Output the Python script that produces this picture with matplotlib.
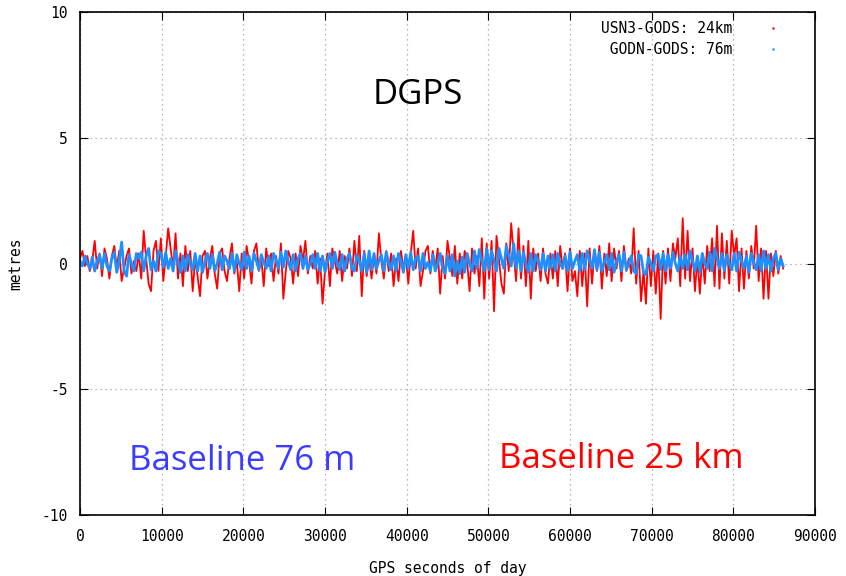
import numpy as np
import matplotlib
matplotlib.use("Agg")
import matplotlib.pyplot as plt
from matplotlib.lines import Line2D

plt.rcParams["axes.unicode_minus"] = False

# sample times (s of day), one every 300 s
t = np.arange(0, 86400, 300)

# USN3-GODS difference (metres)
usn3 = [
    0.2, 0.5, -0.1, 0.3, -0.3, 0.1, 0.9, -0.2, 0.4, -0.5, 0.6, 0.2, -0.6, 0.3, 0.7, -0.2, 0.5, -0.7, -0.2, 0.3, 0.6, -0.4, 0.1, -0.3,
    0.4, -0.6, 1.3, 0.2, -0.8, -1.1, 0.5, 0.9, -0.3, 1.0, -0.7, 0.3, 1.4, 0.6, -0.2, 1.2, -0.6, 0.4, -0.9, 0.7, -0.3, 0.5, -1.1, 0.2,
    -0.5, -1.3, 0.3, 0.5, -0.6, 0.2, 0.7, -0.4, -1.0, 0.4, 0.6, -0.3, -0.7, 0.2, 0.8, -0.4, 0.1, -1.1, 0.4, -0.6, 0.7, 0.1, -0.8, 0.5,
    0.8, -0.3, 0.2, -0.9, 0.6, -0.1, 0.4, -0.7, 0.3, -0.4, 0.8, -1.4, -0.3, 0.5, 0.2, -0.8, 0.4, -0.5, 0.7, 0.1, 0.9, -0.4, 0.3, -0.2,
    0.5, -0.8, 0.2, -1.6, -0.3, 0.4, -0.9, 0.6, 0.1, -0.4, 0.5, -0.7, 0.3, -0.2, 0.6, -0.5, 0.9, -0.3, 1.1, -1.3, 0.5, -0.5, 0.2, -0.6,
    0.3, -0.4, 1.2, 0.1, -0.6, 0.5, -0.3, 0.4, -0.9, 0.2, -0.7, 0.5, -0.2, 0.3, -0.8, 0.4, 1.3, -0.2, 0.6, -0.9, -0.3, 0.5, 0.7, -0.4,
    0.5, -0.2, 0.6, -1.2, 0.3, -0.6, 0.9, 0.2, -0.5, 0.7, -0.8, 0.4, -0.6, 0.5, 0.1, -1.1, 0.6, -0.4, 0.3, -0.9, 1.0, -1.4, 0.8, -0.6,
    0.9, -1.9, 1.1, 0.2, -0.8, -1.2, 0.8, -0.3, 1.6, 0.4, -0.7, 1.4, -0.6, 0.7, -0.9, 0.9, -1.4, 0.6, -0.3, 0.4, -0.7, 0.6, -0.4, -0.8,
    0.4, -0.6, 0.5, -0.9, 0.7, -0.2, 0.4, -1.1, 0.6, -0.7, -0.3, -1.3, 0.5, -0.9, 0.4, -1.7, 0.6, -0.8, 0.5, -0.3, 0.7, -1.0, 0.4, -0.5,
    0.8, -0.7, 0.6, -0.2, 0.5, -0.7, 0.7, -0.3, 0.2, -0.4, 1.4, -0.8, 0.5, -1.5, -0.3, -1.6, 0.6, -0.9, 0.5, -1.2, 0.4, -2.2, 0.5, -0.8,
    0.6, -0.7, 0.8, 0.2, 1.0, -0.9, 1.8, -0.6, 1.3, -0.7, 0.6, -1.1, 0.2, -1.2, 0.4, -0.8, 0.7, -0.3, 1.0, -0.9, 1.5, -1.0, 1.2, -0.6,
    0.9, -0.8, 1.3, 0.3, 1.0, -1.1, 0.6, -1.0, 0.5, -0.6, 0.7, -0.2, 1.5, -0.7, 0.6, -1.4, 0.5, -1.4, 0.4, -0.5, 0.5, -0.4, 0.3, -0.2,
]

# GODN-GODS difference (metres)
godn = [
    0.1, -0.1, 0.3, 0.0, -0.2, 0.25, -0.3, 0.1, 0.35, -0.2, 0.4, -0.1, -0.3, 0.2, 0.45, -0.35, 0.1, 0.85, -0.3, -0.5, 0.35, 0.0, -0.3, 0.4,
    0.2, 0.45, -0.3, 0.3, 0.6, -0.25, 0.1, -0.3, 0.5, 0.4, -0.15, 0.45, -0.2, 0.2, -0.3, 0.5, 0.1, -0.35, 0.3, -0.3, 0.35, 0.0, -0.25, 0.4,
    -0.3, 0.3, -0.35, 0.1, 0.4, -0.2, 0.35, -0.3, 0.0, 0.45, -0.25, 0.3, 0.1, -0.2, 0.4, -0.3, 0.35, 0.0, -0.25, 0.45, -0.2, 0.3, -0.3, 0.4,
    0.1, -0.25, 0.35, 0.05, -0.2, 0.3, -0.3, 0.4, 0.15, -0.2, 0.45, -0.15, 0.5, 0.1, -0.25, 0.35, -0.3, 0.2, 0.4, -0.2, 0.3, -0.25, 0.0, 0.35,
    -0.2, 0.4, -0.3, 0.3, -0.35, 0.1, 0.4, -0.2, 0.45, 0.0, -0.25, 0.35, -0.3, 0.2, 0.4, -0.2, -0.3, 0.35, 0.1, -0.3, 0.4, -0.35, 0.5, -0.25,
    0.4, -0.2, 0.1, 0.35, -0.3, 0.45, 0.0, -0.25, 0.3, -0.3, 0.4, 0.1, -0.35, 0.35, -0.2, 0.45, -0.25, 0.2, 0.3, -0.3, 0.4, -0.2, 0.05, -0.3,
    0.35, -0.3, 0.0, 0.4, -0.2, -0.4, 0.3, -0.3, 0.35, -0.5, 0.1, -0.4, 0.25, -0.35, 0.4, 0.0, -0.3, 0.5, -0.2, 0.55, 0.1, -0.3, 0.6, -0.25,
    0.5, 0.1, -0.3, 0.6, 0.2, -0.2, 0.7, 0.3, -0.1, 0.8, -0.2, 0.5, -0.3, 0.45, 0.0, -0.35, 0.4, -0.3, 0.35, 0.1, -0.25, 0.4, -0.3, 0.3,
    -0.2, 0.35, -0.3, 0.4, 0.0, -0.2, 0.3, -0.3, 0.45, -0.2, 0.1, 0.35, -0.3, 0.4, -0.25, 0.5, 0.15, -0.2, 0.55, -0.25, 0.45, -0.3, 0.05, 0.35,
    -0.25, 0.4, -0.35, 0.1, 0.35, -0.3, 0.45, -0.25, 0.0, 0.3, -0.3, -0.4, 0.35, 0.3, -0.35, -0.45, 0.25, 0.0, -0.3, 0.3, 0.35, -0.25, 0.4, -0.3,
    0.35, -0.2, 0.45, 0.0, -0.3, 0.3, -0.2, 0.35, -0.25, 0.5, 0.1, -0.3, 0.3, -0.35, 0.4, 0.0, -0.2, 0.45, -0.3, 0.6, 0.2, -0.2, 0.4, -0.3,
    0.35, 0.0, -0.25, 0.4, -0.3, 0.45, 0.1, -0.2, 0.3, -0.35, 0.4, 0.05, -0.25, 0.35, -0.3, 0.5, -0.2, 0.35, -0.3, 0.2, 0.4, -0.25, 0.2, -0.1,
]

labels = ["USN3-GODS: 24km", " GODN-GODS: 76m"]
red = "#ff0000"
blue = "#1e8fff"
mono = "DejaVu Sans Mono"

fig = plt.figure(figsize=(8.46, 5.76), dpi=100)
ax = fig.add_axes([80 / 846, 61 / 576, 735 / 846, 503 / 576])

ax.plot(t, usn3, color=red, lw=1.3)
ax.plot(t, godn, color=blue, lw=2.0)

ax.set_xlim(0, 90000)
ax.set_ylim(-10, 10)
ax.set_xticks(range(0, 90001, 10000))
ax.set_yticks([-10, -5, 0, 5, 10])
ax.grid(True, color="#a0a0a0", linestyle=(0, (1, 3)), lw=0.9)
ax.tick_params(direction="in", length=6, top=True, right=True, labelsize=10.5)
ax.tick_params(axis="x", pad=10)
ax.tick_params(axis="y", pad=9)
for lab in ax.get_xticklabels() + ax.get_yticklabels():
    lab.set_family(mono)
for s in ax.spines.values():
    s.set_linewidth(1.2)

ax.set_xlabel("GPS seconds of day", family=mono, fontsize=10.5, labelpad=12)
ax.set_ylabel("metres", family=mono, fontsize=10.5, labelpad=13)

handles = [Line2D([], [], ls="none", marker=".", ms=1.5, color=c) for c in (red, blue)]
ax.legend(handles, labels, loc="upper right", bbox_to_anchor=(0.975, 1.008), frameon=False,
          markerfirst=False, handlelength=1.5, handletextpad=2.0, labelspacing=0.42,
          prop={"family": mono, "size": 10.5})

ax.text(0.459, 0.835, "DGPS", transform=ax.transAxes, ha="center", va="center",
        fontsize=25, family="Open Sans", color="black")
ax.text(0.221, 0.107, "Baseline 76 m", transform=ax.transAxes, ha="center", va="center",
        fontsize=25, family="Open Sans", color="#3c3cff")
ax.text(0.737, 0.112, "Baseline 25 km", transform=ax.transAxes, ha="center", va="center",
        fontsize=25, family="Open Sans", color="#ff0000")

fig.savefig("out.png", dpi=100)
